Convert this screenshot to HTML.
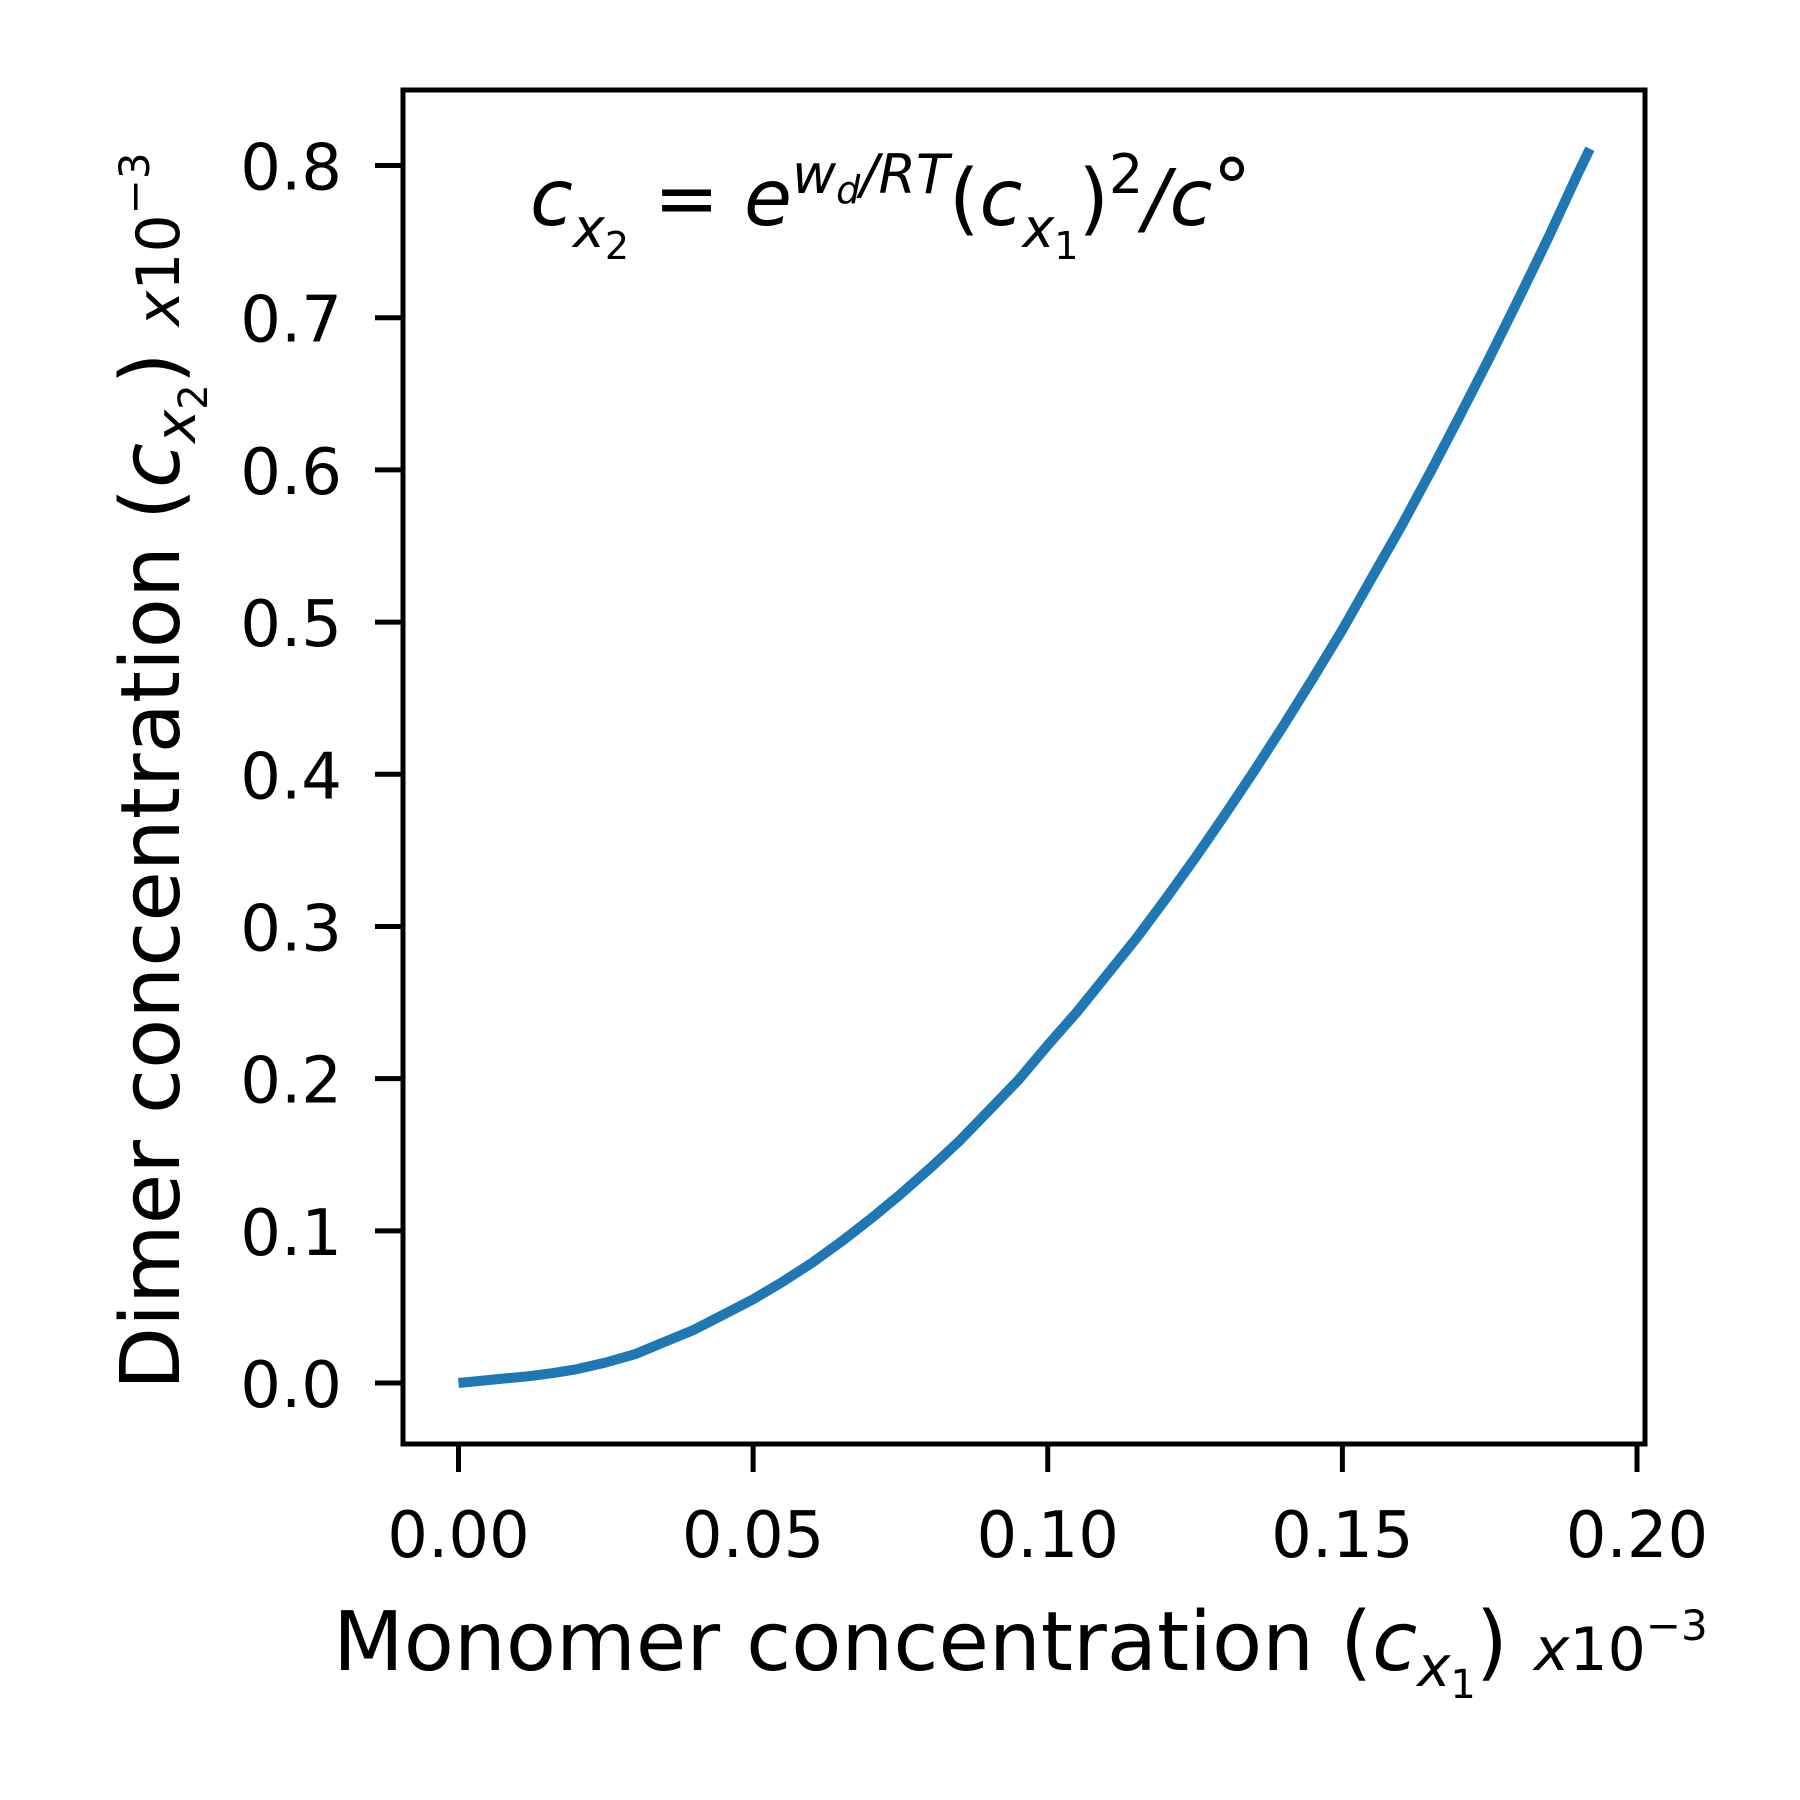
<!DOCTYPE html>
<html><head><meta charset="utf-8"><style>
html,body{margin:0;padding:0;background:#fff;}
svg{display:block;font-family:"DejaVu Sans","Liberation Sans",sans-serif;}
</style></head><body>
<svg id="chart" width="1800" height="1800" viewBox="0 0 1800 1800" xmlns="http://www.w3.org/2000/svg">
<rect width="1800" height="1800" fill="#fff"/>
<g id="marks"></g>
<g id="axes"></g>
<text x="530" y="225" font-size="78" font-style="italic">c<tspan font-size="54" dy="22">x</tspan><tspan font-size="38" dy="12" font-style="normal">2</tspan><tspan dy="-34" font-style="normal"> = </tspan>e<tspan font-size="54" dy="-32">w</tspan><tspan font-size="38" dy="10">d</tspan><tspan font-size="54" dy="-10">/RT</tspan><tspan dy="32" font-style="normal">(</tspan>c<tspan font-size="54" dy="22">x</tspan><tspan font-size="38" dy="12" font-style="normal">1</tspan><tspan dy="-34" font-style="normal">)</tspan><tspan font-size="54" dy="-32" font-style="normal">2</tspan><tspan dy="32">/c</tspan><tspan font-style="normal" dy="-10">°</tspan></text>
<text x="333" y="1670" font-size="82">Monomer concentration (<tspan font-style="italic">c</tspan><tspan font-size="56" font-style="italic" dy="16">x</tspan><tspan font-size="40" dy="12">1</tspan><tspan dy="-28">) </tspan><tspan font-size="60" font-style="italic">x</tspan><tspan font-size="60">10</tspan><tspan font-size="42" dy="-30">−3</tspan></text>
<text transform="translate(179,1390) rotate(-90)" x="0" y="0" font-size="82">Dimer concentration (<tspan font-style="italic">c</tspan><tspan font-size="56" font-style="italic" dy="16">x</tspan><tspan font-size="40" dy="12">2</tspan><tspan dy="-28">) </tspan><tspan font-size="60" font-style="italic">x</tspan><tspan font-size="60">10</tspan><tspan font-size="42" dy="-30">−3</tspan></text>
</svg>
<script>
const xValues = [0, 0.008, 0.012, 0.016, 0.02, 0.025, 0.03, 0.035, 0.04, 0.045, 0.05, 0.055, 0.06, 0.065, 0.07, 0.075, 0.08, 0.085, 0.09, 0.095, 0.10, 0.105, 0.11, 0.115, 0.12, 0.125, 0.13, 0.135, 0.14, 0.145, 0.15, 0.155, 0.16, 0.165, 0.17, 0.175, 0.18, 0.185, 0.19, 0.192];
const yValues = [0, 0.003, 0.0045, 0.0065, 0.009, 0.0135, 0.019, 0.027, 0.035, 0.045, 0.055, 0.0665, 0.079, 0.093, 0.108, 0.124, 0.141, 0.159, 0.179, 0.199, 0.222, 0.244, 0.268, 0.292, 0.318, 0.345, 0.373, 0.402, 0.432, 0.463, 0.495, 0.529, 0.563, 0.599, 0.636, 0.674, 0.713, 0.753, 0.795, 0.811];
const xTicks = [0, 0.05, 0.10, 0.15, 0.20];
const xTickLabels = ["0.00", "0.05", "0.10", "0.15", "0.20"];
const yTicks = [0, 0.1, 0.2, 0.3, 0.4, 0.5, 0.6, 0.7, 0.8];
const yTickLabels = ["0.0", "0.1", "0.2", "0.3", "0.4", "0.5", "0.6", "0.7", "0.8"];

const NS = "http://www.w3.org/2000/svg";
const L = 403, R = 1645, T = 90, B = 1444;
function xs(v){ return 458.5 + v * (1637 - 458.5) / 0.2; }
function ys(v){ return 1383 - v * (1383 - 165.5) / 0.8; }
const marks = document.getElementById('marks');
const axes = document.getElementById('axes');

const path = document.createElementNS(NS, 'path');
path.setAttribute('d', xValues.map((x, i) => (i ? 'L' : 'M') + xs(x).toFixed(1) + ',' + ys(yValues[i]).toFixed(1)).join(' '));
path.setAttribute('fill', 'none');
path.setAttribute('stroke', '#1f77b4');
path.setAttribute('stroke-width', '10');
path.setAttribute('stroke-linejoin', 'round');


marks.appendChild(path);

const frame = document.createElementNS(NS, 'rect');
frame.setAttribute('x', L); frame.setAttribute('y', T);
frame.setAttribute('width', R - L); frame.setAttribute('height', B - T);
frame.setAttribute('fill', 'none'); frame.setAttribute('stroke', '#000'); frame.setAttribute('stroke-width', '5');


axes.appendChild(frame);

xTicks.forEach((v, i) => {
  const t = document.createElementNS(NS, 'line');
  t.setAttribute('x1', xs(v)); t.setAttribute('x2', xs(v));
  t.setAttribute('y1', B); t.setAttribute('y2', B + 28);
  t.setAttribute('stroke', '#000'); t.setAttribute('stroke-width', '5');
  
  
  axes.appendChild(t);
  const lb = document.createElementNS(NS, 'text');
  lb.setAttribute('x', xs(v)); lb.setAttribute('y', 1557);
  lb.setAttribute('text-anchor', 'middle'); lb.setAttribute('font-size', '64');
  lb.textContent = xTickLabels[i];
  
  
  axes.appendChild(lb);
});
yTicks.forEach((v, i) => {
  const t = document.createElementNS(NS, 'line');
  t.setAttribute('x1', L - 28); t.setAttribute('x2', L);
  t.setAttribute('y1', ys(v)); t.setAttribute('y2', ys(v));
  t.setAttribute('stroke', '#000'); t.setAttribute('stroke-width', '5');
  
  
  axes.appendChild(t);
  const lb = document.createElementNS(NS, 'text');
  lb.setAttribute('x', 342); lb.setAttribute('y', ys(v) + 24);
  lb.setAttribute('text-anchor', 'end'); lb.setAttribute('font-size', '64');
  lb.textContent = yTickLabels[i];
  
  
  axes.appendChild(lb);
});
</script>
</body></html>
